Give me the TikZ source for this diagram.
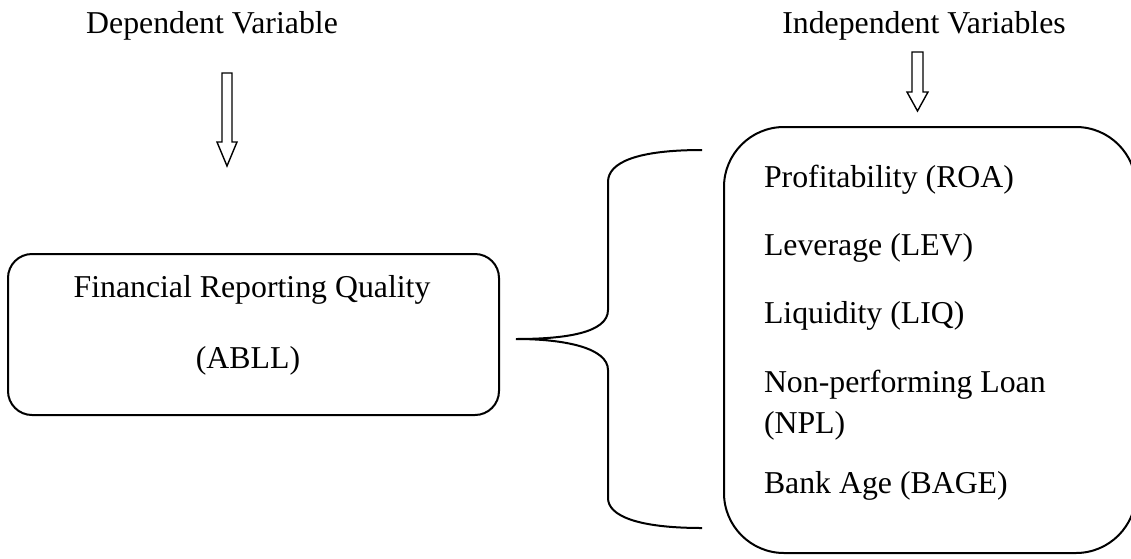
\documentclass[tikz,border=0pt]{standalone}
\usepackage{fontspec}
\setmainfont{Liberation Serif}
\usetikzlibrary{positioning}

\begin{document}
\begin{tikzpicture}[x=0.5pt,y=-0.5pt,line width=1pt,
                    font=\fontsize{15.9}{19}\selectfont]
  \tikzstyle{varbox}=[draw,rectangle,inner sep=0pt]
  \tikzstyle{label}=[inner sep=0pt,anchor=base]
  \tikzstyle{item}=[inner sep=0pt,anchor=base west]
  \tikzstyle{hollow}=[draw,line width=0.7pt,miter limit=10]

  \useasboundingbox (0,0) rectangle (1131,558);

  % headings
  \node[label] (dep)   at (212,33) {Dependent Variable};
  \node[label] (indep) at (924,33) {Independent Variables};

  % block arrows
  \draw[hollow] (222,73) -- (232,73) -- (232,142) -- (237,142) -- (227,166)
                -- (217,142) -- (222,142) -- cycle;
  \draw[hollow] (912,52) -- (923,52) -- (923,92) -- (928,92) -- (917.5,111)
                -- (907,92) -- (912,92) -- cycle;

  % dependent variable box
  \node[varbox,rounded corners=12pt,minimum width=245.5pt,minimum height=80.5pt]
        (frq) at (253.5,334.5) {};
  \node[label] (frqname) at (252,297) {Financial Reporting Quality};
  \node[label] (abll)    at (248,368) {(ABLL)};

  % independent variables box
  \node[varbox,rounded corners=30pt,minimum width=206pt,minimum height=213pt]
        (ivs) at (930,340) {};
  \node[item] (roa)  at (763,187) {Profitability (ROA)};
  \node[item] (lev)  at (763,255) {Leverage (LEV)};
  \node[item] (liq)  at (763,323) {Liquidity (LIQ)};
  \node[item] (npl)  at (763,392) {Non-performing Loan};
  \node[item] (npl2) at (763,433) {(NPL)};
  \node[item] (bage) at (763,493) {Bank Age (BAGE)};

  % brace
  \coordinate (bracetip) at (516,339);
  \coordinate (bracetop) at (702,150);
  \coordinate (bracebot) at (702,528);
  \draw (bracetop) .. controls (638,150) and (608,162) .. (608,182)
        -- (608,310) .. controls (608,333) and (565,339) .. (bracetip)
        .. controls (565,339) and (608,348) .. (608,370)
        -- (608,498) .. controls (608,516) and (638,528) .. (bracebot);
\end{tikzpicture}
\end{document}
